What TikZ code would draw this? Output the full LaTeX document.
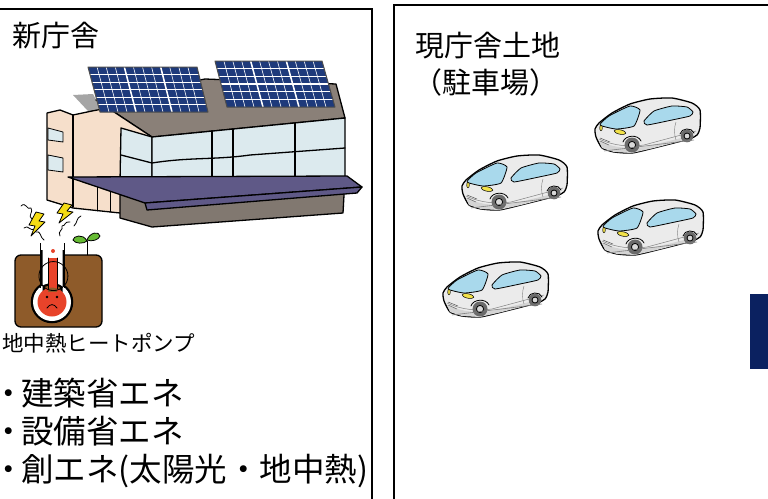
\documentclass[tikz,border=0pt]{standalone}
\usepackage{fontspec}
\newfontfamily\jp{Noto Sans CJK JP}
\newfontfamily\jpprop[RawFeature=+palt]{Noto Sans CJK JP}
\usetikzlibrary{calc}

\definecolor{roofc}{HTML}{8A8078}
\definecolor{roofshade}{HTML}{A5A5A5}
\definecolor{beigec}{HTML}{F6DFCB}
\definecolor{glassc}{HTML}{DCEAEE}
\definecolor{canopyc}{HTML}{5F5987}
\definecolor{basec}{HTML}{817870}
\definecolor{panelc}{HTML}{1E3A7B}
\definecolor{soilc}{HTML}{8E5B2A}
\definecolor{redc}{HTML}{E8432A}
\definecolor{leafc}{HTML}{66BB33}
\definecolor{boltc}{HTML}{F5DC14}
\definecolor{carbody}{HTML}{EBEBEB}
\definecolor{carlow}{HTML}{D4D4D4}
\definecolor{carglass}{HTML}{A9D9EC}
\definecolor{lampc}{HTML}{F2E24A}
\definecolor{tirec}{HTML}{6B6B6B}
\definecolor{hubc}{HTML}{D9D9D9}
\definecolor{navyc}{HTML}{0B2160}

% one solar panel given by its four corners, with a 12 x 6 cell grid
\newcommand\solarpanel[4]{%
  \coordinate (pA) at #1; \coordinate (pB) at #2;
  \coordinate (pC) at #3; \coordinate (pD) at #4;
  \fill[panelc] (pA)--(pB)--(pC)--(pD)--cycle;
  \foreach \i in {1,...,11}{\draw[white,line width=0.6pt] ($(pA)!\i/12!(pB)$)--($(pD)!\i/12!(pC)$);}
  \foreach \i in {4,8}{\draw[white,line width=1.5pt] ($(pA)!\i/12!(pB)$)--($(pD)!\i/12!(pC)$);}
  \foreach \j in {1,...,5}{\draw[white,line width=0.6pt] ($(pA)!\j/6!(pD)$)--($(pB)!\j/6!(pC)$);}
  \draw[white,line width=1.5pt] ($(pA)!0.5!(pD)$)--($(pB)!0.5!(pC)$);
  \draw[gray!60!black,line width=1pt,line join=round] (pA)--(pB)--(pC)--(pD)--cycle;
}

% bullet set with a proportional middle dot, then the item text
\newcommand\bulletitem[1]{{\jpprop ・}\kern 5pt #1}

\tikzset{
  frame/.style={draw=black,line width=2.4pt},
  ink/.style={draw=black,line width=1.3pt,line join=round,line cap=round},
  thin/.style={draw=black,line width=0.8pt,line join=round,line cap=round},
  txt/.style={inner sep=0pt,anchor=base west,text=black},
  car/.pic={
    % body
    \draw[ink,fill=carbody] plot[smooth cycle,tension=0.35] coordinates
      {(2,39) (1,31) (5,25) (18,15) (36,6) (56,1) (78,0) (98,5) (106,12)
       (106,30) (103,37) (95,41) (60,50) (38,55) (20,54) (8,50)};
    % lower body shading
    \fill[carlow] (5,43) .. controls (20,50) and (35,51) .. (50,49)
      -- (100,37) -- (95,41) -- (60,50) -- (38,55) -- (20,54) -- (8,50) -- cycle;
    \draw[gray,line width=0.5pt] (5,41) .. controls (20,48) and (35,49) .. (50,47) -- (102,33);
    % windows
    \draw[thin,fill=carglass] plot[smooth cycle,tension=0.3] coordinates
      {(6,27) (15,18) (36,8) (46,12) (40,28) (22,31)};
    \draw[thin,fill=carglass] plot[smooth cycle,tension=0.3] coordinates
      {(50,23) (60,13) (78,8) (93,9) (99,14) (96,18) (78,22) (53,27)};
    % lamps and grille
    \draw[line width=0.5pt,fill=lampc] (7,30) ellipse[x radius=1.3,y radius=2.8];
    \draw[line width=0.5pt,fill=lampc,rotate around={-12:(26,34)}] (26,34) ellipse[x radius=6,y radius=2.2];
    \draw[gray!70!black,line width=0.5pt] (6,40)--(16,44) (6,43)--(15,47);
    % door line
    \draw[gray,line width=0.4pt] (82,24) .. controls (80,30) and (80,36) .. (82,42);
    % wheels
    \fill[tirec] (38,47) circle (7.5);
    \draw[line width=0.8pt,fill=hubc] (38,47) circle (3.6);
    \fill[tirec] (93,38) circle (6.3);
    \draw[line width=0.8pt,fill=hubc] (93,38) circle (3);
    \draw[thin] (29,44) .. controls (31,37) and (44,36) .. (47,43);
    \draw[thin] (86,36) .. controls (87,30) and (98,29) .. (100,35);
    \draw[gray,line width=0.6pt] (10,53) -- (100,42);
  }
}

\begin{document}
\begin{tikzpicture}[x=1pt,y=-1pt]
\useasboundingbox (0,0) rectangle (768,498);
\clip (0,0) rectangle (768,498);

% ---------- frames ----------
\draw[frame] (-10,9) -- (372,9) -- (372,510);
\draw[frame] (394,510) -- (394,5) -- (780,5);
\fill[navyc] (750,294) rectangle (780,369);

% ---------- new building ----------
% back slope shade and roof
\fill[roofshade] (73,95) -- (93,94) -- (102,112) -- (88,111) -- cycle;
\draw[ink,fill=roofc] (96,100) -- (205,79) -- (336,84) -- (345,118) -- (152,137) -- (108,108) -- cycle;
% tower and gable wall
\draw[ink,fill=beigec] (47,113) -- (60,110) -- (73,115) -- (92,111) -- (108,108)
  -- (152,137) -- (147,215) -- (120,213) -- (73,208) -- (47,200) -- cycle;
\draw[ink] (73,115) -- (73,207);
\draw[thin] (97,185) -- (97,211) (110,186) -- (110,212);
\draw[thin,fill=glassc] (48,128) -- (63,132) -- (63,142) -- (48,140) -- cycle;
\draw[thin,fill=glassc] (48,155) -- (63,158) -- (63,172) -- (48,170) -- cycle;
% glass facade
\draw[ink,fill=glassc] (121,128) -- (152,137) -- (152,190) -- (120,182) -- cycle;
\draw[ink] (121,155) -- (152,163);
\draw[ink,fill=glassc] (152,137) -- (345,118) -- (345,177) -- (152,190) -- cycle;
\draw[ink] (152,163) .. controls (190,157) and (215,160) .. (250,155) -- (345,148);
\draw[ink] (212,131) -- (212,186) (233,129) -- (233,185) (295,123) -- (295,181);
% base below the canopy
\draw[ink,fill=basec] (120,185) -- (345,177) -- (343,213) -- (152,227) -- (120,218) -- cycle;
% canopy
\draw[ink,fill=canopyc] (68,177) -- (347,176) -- (362,187) -- (145,203) -- cycle;
\draw[ink,fill=canopyc] (145,203) -- (362,187) -- (357,193) -- (147,210) -- cycle;
% solar panels
\solarpanel{(88,67)}{(197,67)}{(208,112)}{(100,112)}
\solarpanel{(215,61)}{(322,61)}{(335,107)}{(227,107)}

% ---------- geothermal heat pump ----------
\draw[ink,fill=soilc,rounded corners=6pt] (15,255) rectangle (102,327);
% thermometer
\draw[line width=4.5pt] (42.5,246) -- (42.5,292) (62.5,246) -- (62.5,292) (52,302) circle (19);
\fill[white] (42.5,246) rectangle (62.5,292) (52,302) circle (19);
\fill[white] (40,240) rectangle (65,250);
\draw[line width=1.6pt] (40.5,243) -- (40.5,288) (64.5,243) -- (64.5,288);
\fill[redc] (48,258) rectangle (57,292) (52,302) circle (14.5);
\draw[thin] (48,258) -- (48,289) (57,258) -- (57,289);
\draw[thin] (48,289.5) arc[start angle=112,end angle=-292,radius=14.5];
\fill[redc] (53,251) circle (2);
% face
\fill (47,297) circle (1.3) (57,297) circle (1.3);
\draw[thin] (47,308) .. controls (50,303.5) and (54,303.5) .. (57,308);
% sprout
\draw[thin] (87,255) -- (87,241);
\draw[thin,fill=leafc] (87,241) .. controls (83,233) and (73,236) .. (73,240) .. controls (75,244) and (84,244) .. (87,241);
\draw[thin,fill=leafc] (87,240) .. controls (90,232) and (99,231) .. (100,236) .. controls (99,240) and (91,242) .. (87,240);
% steam
\draw[thin] (21,206) .. controls (26,201) and (27,211) .. (31,208) .. controls (34,212) and (27,216) .. (32,219);
\draw[thin] (24,228) .. controls (28,224) and (30,232) .. (35,229);
\draw[thin] (36,232) .. controls (41,230) and (40,238) .. (44,240);
\draw[thin] (60,236) .. controls (57,231) and (64,230) .. (62,226) .. controls (66,226) and (64,221) .. (70,222);
\draw[thin] (74,226) .. controls (78,222) and (76,218) .. (81,216);
% lightning
\draw[thin,fill=boltc] (36,212) -- (44,214) -- (39,221) -- (45,222) -- (31,236) -- (35,226) -- (29,225) -- cycle;
\draw[thin,fill=boltc] (64,203) -- (72,205) -- (67,211) -- (73,212) -- (59,223) -- (63,214) -- (57,213) -- cycle;

% ---------- cars on the parking lot ----------
\pic at (594,98) {car};
\pic at (461,155) {car};
\pic at (597,200) {car};
\pic at (442,262) {car};

% ---------- texts ----------
\node[txt,font=\jp\fontsize{29}{34}\selectfont] (new) at (12,46) {新庁舎};
\node[txt,font=\jp\fontsize{29}{34}\selectfont] (old) at (415,56) {現庁舎土地};
\node[txt,font=\jp\fontsize{29}{34}\selectfont] (park) at (413,93) {（駐車場）};
\node[txt,font=\jp\fontsize{21.5}{24}\selectfont] (hp) at (2,351) {地中熱ヒートポンプ};
\node[txt,font=\jp\fontsize{32.5}{38}\selectfont] (b1) at (0,405) {\bulletitem{建築省エネ}};
\node[txt,font=\jp\fontsize{32.5}{38}\selectfont] (b2) at (0,443) {\bulletitem{設備省エネ}};
\node[txt,font=\jp\fontsize{32.5}{38}\selectfont] (b3) at (0,481) {\bulletitem{創エネ(太陽光・地中熱)}};
\end{tikzpicture}
\end{document}
